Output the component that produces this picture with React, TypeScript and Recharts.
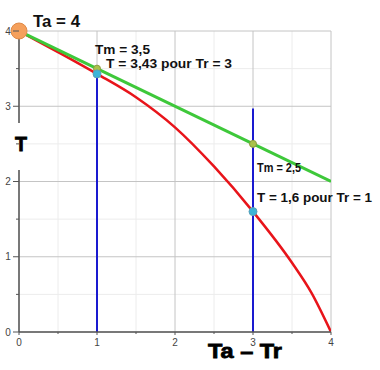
import React from 'react';
import { LineChart, Line, XAxis, YAxis, CartesianGrid, ReferenceLine, ReferenceDot } from 'recharts';

// Data
const axisTicks = [0, 0.5, 1, 1.5, 2, 2.5, 3, 3.5, 4];
const majorGrid = [0, 1, 2, 3, 4];
const minorGrid = [0.5, 1.5, 2.5, 3.5];
const redCurve = [
  { x: 0, T: 4 },
  { x: 0.5, T: 3.72 },
  { x: 1, T: 3.43 },
  { x: 1.5, T: 3.12 },
  { x: 2, T: 2.72 },
  { x: 2.5, T: 2.2 },
  { x: 3, T: 1.6 },
  { x: 3.5, T: 0.92 },
  { x: 3.75, T: 0.52 },
  { x: 4, T: 0 },
];
const greenLine = [
  { x: 0, T: 4 },
  { x: 4, T: 2 },
];
const blueLines = [
  { x: 1, from: 0, to: 3.43 },
  { x: 3, from: 0, to: 2.97 },
];
const tmPoints = [
  { x: 1, y: 3.5, label: 'Tm = 3,5' },
  { x: 3, y: 2.5, label: 'Tm = 2,5' },
];
const tPoints = [
  { x: 1, y: 3.43, label: 'T = 3,43 pour Tr = 3' },
  { x: 3, y: 1.6, label: 'T = 1,6 pour Tr = 1' },
];
const startPoint = { x: 0, y: 4, label: 'Ta = 4' };
const xTitle = 'Ta \u2013 Tr';
const yTitle = 'T';

const FONT = '"Liberation Sans", Arial, sans-serif';

const makeLabel = (text: string, dx: number, dy: number, size: number, len: number) => (props: any) => {
  const vb = props.viewBox || {};
  const cx = (vb.x || 0) + (vb.width || 0) / 2;
  const cy = (vb.y || 0) + (vb.height || 0) / 2;
  return (
    <text
      x={cx + dx}
      y={cy + dy}
      fontFamily={FONT}
      fontWeight="bold"
      fontSize={size}
      fill="#111"
      textLength={len}
      lengthAdjust="spacingAndGlyphs"
    >
      {text}
    </text>
  );
};

const tmOffsets = [
  { dx: -2, dy: -14.5, len: 55 },
  { dx: 4, dy: 28.5, len: 44 },
];
const tOffsets = [
  { dx: 9, dy: -6, len: 126 },
  { dx: 4, dy: -10, len: 115 },
];

const YTick = (props: any) => {
  const { x, y, payload } = props;
  const major = Number.isInteger(payload.value);
  return (
    <g>
      <line x1={x - (major ? 6 : 3)} x2={x} y1={y} y2={y} stroke="#555" strokeWidth={1} />
      {major && (
        <text x={x - 11} y={y + 3.5} textAnchor="middle" fontFamily={FONT} fontSize={10} fill="#444">
          {payload.value}
        </text>
      )}
    </g>
  );
};

const XTick = (props: any) => {
  const { x, y, payload } = props;
  const major = Number.isInteger(payload.value);
  return (
    <g>
      <line x1={x} x2={x} y1={y} y2={y + (major ? 3 : 2)} stroke="#555" strokeWidth={1} />
      {major && (
        <text x={x} y={y + 14} textAnchor="middle" fontFamily={FONT} fontSize={10} fill="#444">
          {payload.value}
        </text>
      )}
    </g>
  );
};

const XTitle = (props: any) => {
  const vb = props.viewBox || {};
  return (
    <text
      x={(vb.x || 0) + 189}
      y={(vb.y || 0) + 26}
      fontFamily={FONT}
      fontWeight="bold"
      fontSize={21}
      fill="#000"
      stroke="#000"
      strokeWidth={0.8}
      textLength={74}
      lengthAdjust="spacingAndGlyphs"
    >
      {xTitle}
    </text>
  );
};

const YTitle = (props: any) => {
  const vb = props.viewBox || {};
  const ax = (vb.x || 0) + (vb.width || 0);
  return (
    <g>
      <rect x={ax - 4} y={123} width={8} height={47} fill="#fff" />
      <text
        x={ax + 2}
        y={151}
        textAnchor="middle"
        fontFamily={FONT}
        fontWeight="bold"
        fontSize={21}
        fill="#000"
        stroke="#000"
        strokeWidth={0.8}
        textLength={12}
        lengthAdjust="spacingAndGlyphs"
      >
        {yTitle}
      </text>
    </g>
  );
};

export default function App() {
  return (
    <div style={{ position: 'absolute', left: 0, top: 0, width: 380, height: 370, background: '#fff' }}>
      <LineChart width={380} height={370} margin={{ top: 31, right: 49, bottom: 0, left: 0 }}>
        <CartesianGrid stroke="#ececec" strokeWidth={1} horizontalValues={minorGrid} verticalValues={minorGrid} />
        <CartesianGrid stroke="#c4c4c4" strokeWidth={1} horizontalValues={majorGrid} verticalValues={majorGrid} />
        <XAxis
          type="number"
          dataKey="x"
          domain={[0, 4]}
          ticks={axisTicks}
          interval={0}
          height={38}
          tickSize={0}
          tickMargin={0}
          tick={<XTick />}
          axisLine={{ stroke: '#555', strokeWidth: 1.5 }}
          label={<XTitle />}
          allowDataOverflow
        />
        <YAxis
          type="number"
          dataKey="T"
          domain={[0, 4]}
          ticks={axisTicks}
          interval={0}
          width={19}
          tickSize={0}
          tickMargin={0}
          tick={<YTick />}
          axisLine={{ stroke: '#555', strokeWidth: 1.5 }}
          label={<YTitle />}
          allowDataOverflow
        />
        {blueLines.map((b, i) => (
          <ReferenceLine
            key={'b' + i}
            segment={[{ x: b.x, y: b.from }, { x: b.x, y: b.to }]}
            stroke="#1a1ad0"
            strokeWidth={2}
            ifOverflow="visible"
          />
        ))}
        <Line
          data={redCurve}
          dataKey="T"
          type="monotone"
          stroke="#e8141a"
          strokeWidth={2.5}
          dot={false}
          isAnimationActive={false}
        />
        <Line
          data={greenLine}
          dataKey="T"
          type="linear"
          stroke="#3ec83a"
          strokeWidth={3}
          dot={false}
          isAnimationActive={false}
        />
        {tmPoints.map((p, i) => (
          <ReferenceDot
            key={'tm' + i}
            x={p.x}
            y={p.y}
            r={3.5}
            fill="#a9c24a"
            stroke="#8a9a3e"
            strokeWidth={1}
            ifOverflow="visible"
            label={makeLabel(p.label, tmOffsets[i].dx, tmOffsets[i].dy, 13.5, tmOffsets[i].len)}
          />
        ))}
        {tPoints.map((p, i) => (
          <ReferenceDot
            key={'t' + i}
            x={p.x}
            y={p.y}
            r={4}
            fill="#3cb4d8"
            stroke="#5aa0b8"
            strokeWidth={1}
            ifOverflow="visible"
            label={makeLabel(p.label, tOffsets[i].dx, tOffsets[i].dy, 13.5, tOffsets[i].len)}
          />
        ))}
        <ReferenceDot
          x={startPoint.x}
          y={startPoint.y}
          r={8}
          fill="#f5a05c"
          stroke="#e08a48"
          strokeWidth={1}
          ifOverflow="visible"
          label={makeLabel(startPoint.label, 14, -4, 17, 47)}
        />
      </LineChart>
    </div>
  );
}
